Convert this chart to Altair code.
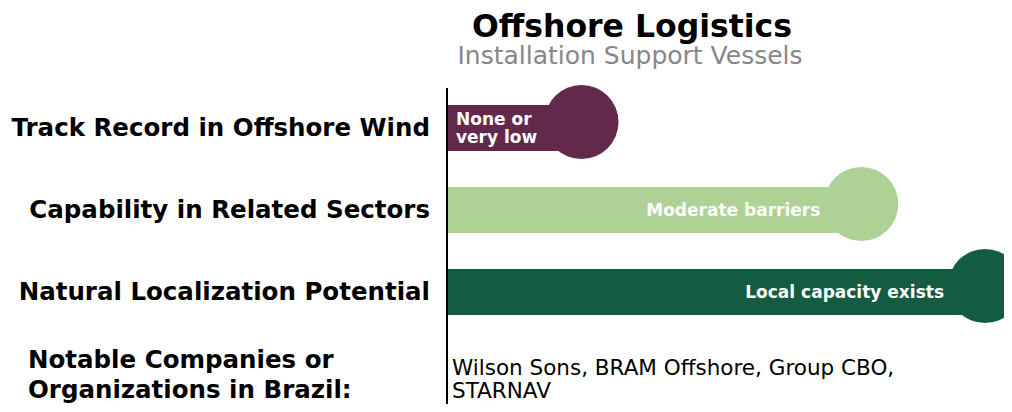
import altair as alt
import pandas as pd

# ---- data ----
categories = ["Track Record in Offshore Wind", "Capability in Related Sectors", "Natural Localization Potential"]
scores = [25, 77, 100]
bar_labels = ["None or\nvery low", "Moderate barriers", "Local capacity exists"]
bar_colors = ["#62294a", "#aed196", "#135c41"]

title_text = "Offshore Logistics"
subtitle_text = "Installation Support Vessels"
notable_heading = "Notable Companies or\nOrganizations in Brazil:"
notable_companies = "Wilson Sons, BRAM Offshore, Group CBO,\nSTARNAV"

df = pd.DataFrame({"category": categories, "value": scores, "label": bar_labels})
df["row"] = range(len(df))

FONT = "DejaVu Sans"

x_scale = alt.Scale(domain=[0, 100], range=[439, 977])
y_scale = alt.Scale(type="point", domain=categories, range=[120, 284], padding=0)
color_scale = alt.Scale(domain=categories, range=bar_colors)

y_enc = alt.Y("category:N", scale=y_scale, axis=None)
color_enc = alt.Color("category:N", scale=color_scale, legend=None)

base = alt.Chart(df)

bars = base.mark_rule(strokeWidth=46, strokeCap="butt").encode(
    x=alt.X("zero:Q", scale=x_scale, axis=None),
    x2="value:Q",
    y=y_enc,
    color=color_enc,
).transform_calculate(zero="0")

circles = base.mark_circle(size=5476, opacity=1, yOffset=-6).encode(
    x=alt.X("value:Q", scale=x_scale, axis=None),
    y=y_enc,
    color=color_enc,
)

label_first = base.transform_filter("datum.row == 0").mark_text(
    align="left", baseline="alphabetic", font=FONT, fontWeight="bold", fontSize=17,
    color="white", lineBreak="\n", lineHeight=18, dy=-3,
).encode(x=alt.value(448), y=y_enc, text="label:N")

label_rest = base.transform_filter("datum.row > 0").mark_text(
    align="right", baseline="middle", font=FONT, fontWeight="bold", fontSize=17,
    color="white", dx=-41, dy=1,
).encode(x=alt.X("value:Q", scale=x_scale, axis=None), y=y_enc, text="label:N")

left_labels = base.mark_text(
    align="right", baseline="middle", font=FONT, fontWeight="bold", fontSize=24.5,
    color="black", dy=1,
).encode(x=alt.value(422), y=y_enc, text="category:N")

vline = alt.Chart(pd.DataFrame({"a": [0]})).mark_rule(color="black", strokeWidth=2).encode(
    x=alt.value(439), y=alt.value(80), y2=alt.value(396)
)

title_df = pd.DataFrame({"t": [title_text]})
title = alt.Chart(title_df).mark_text(
    align="center", baseline="alphabetic", font=FONT, fontWeight="bold", fontSize=31.5, color="black"
).encode(x=alt.value(624), y=alt.value(29), text="t:N")

sub_df = pd.DataFrame({"t": [subtitle_text]})
subtitle = alt.Chart(sub_df).mark_text(
    align="center", baseline="alphabetic", font=FONT, fontSize=25, color="#878787"
).encode(x=alt.value(622), y=alt.value(56), text="t:N")

head_df = pd.DataFrame({"t": [notable_heading]})
heading = alt.Chart(head_df).mark_text(
    align="left", baseline="alphabetic", font=FONT, fontWeight="bold", fontSize=24.5,
    color="black", lineBreak="\n", lineHeight=30,
).encode(x=alt.value(20), y=alt.value(360), text="t:N")

comp_df = pd.DataFrame({"t": [notable_companies]})
companies = alt.Chart(comp_df).mark_text(
    align="left", baseline="alphabetic", font=FONT, fontSize=21.5,
    color="black", lineBreak="\n", lineHeight=23,
).encode(x=alt.value(444), y=alt.value(367), text="t:N")

chart = alt.layer(
    bars, circles, label_first, label_rest, left_labels, vline, title, subtitle, heading, companies
).properties(
    width=996, height=396, autosize=alt.AutoSizeParams(type="none"), padding=0
).configure_view(stroke=None).resolve_scale(y="shared", x="shared", color="shared")

chart.save("out.html", embed_options={"renderer": "svg", "actions": False})
